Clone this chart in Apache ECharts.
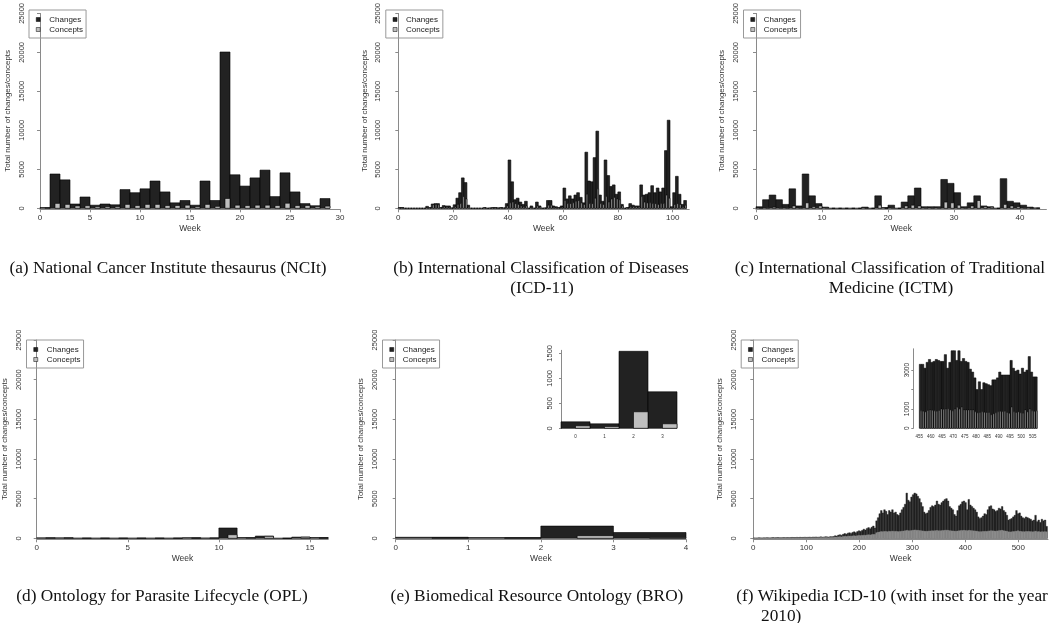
<!DOCTYPE html>
<html>
<head>
<meta charset="utf-8">
<title>Weekly changes and concepts</title>
<script src="https://cdn.jsdelivr.net/npm/echarts@6.0.0/dist/echarts.min.js"></script>
<style>
html, body { margin: 0; padding: 0; background: #fff; }
#main { width: 1050px; height: 623px; }
</style>
</head>
<body>
<div id="main"></div>
<script>
// ---- data (one value per week, week 0 first) ----
var aChanges = [100, 4400, 3650, 550, 1450, 400, 550, 450, 2400, 2000, 2500, 3500, 2100, 700, 1000,
  400, 3500, 1000, 20050, 4300, 2850, 3900, 4900, 1500, 4550, 2100, 600, 330, 1250];
var aConcepts = [60, 630, 500, 300, 330, 200, 200, 200, 500, 350, 500, 500, 350, 350, 400,
  200, 500, 250, 1260, 400, 350, 400, 400, 350, 650, 350, 350, 200, 280];

var bChanges = [100, 100, 0, 0, 0, 0, 0, 0, 0, 0,
  250, 100, 550, 600, 600, 100, 350, 300, 300, 50,
  450, 1300, 2000, 3900, 3300, 400, 0, 0, 0, 0,
  0, 100, 0, 50, 100, 100, 50, 100, 50, 600,
  6200, 3400, 1100, 1300, 800, 500, 900, 0, 300, 0,
  800, 300, 0, 50, 1000, 1000, 300, 200, 100, 300,
  2600, 1200, 1600, 1200, 1700, 2000, 1400, 700, 7200, 3500,
  3400, 6500, 9900, 1700, 900, 6200, 4200, 2800, 3000, 1800,
  2100, 500, 0, 100, 600, 400, 300, 300, 3000, 1700,
  1800, 2000, 2900, 2000, 2600, 2100, 2600, 7400, 11300, 200,
  2000, 4100, 1800, 500, 1000];
var bConcepts = [50, 50, 0, 0, 0, 0, 0, 0, 0, 0,
  100, 50, 450, 500, 450, 50, 200, 200, 150, 20,
  200, 500, 600, 1500, 1200, 200, 0, 0, 0, 0,
  0, 50, 0, 30, 50, 50, 30, 50, 30, 300,
  700, 800, 600, 500, 300, 200, 300, 0, 100, 0,
  300, 150, 0, 20, 400, 400, 150, 100, 50, 150,
  1000, 600, 600, 700, 900, 1000, 700, 500, 1800, 600,
  600, 1300, 2500, 600, 500, 1500, 800, 1200, 1400, 1200,
  1100, 300, 0, 50, 200, 200, 200, 200, 1500, 800,
  700, 700, 600, 600, 500, 600, 600, 1700, 1300, 100,
  500, 600, 500, 200, 400];

var cChanges = [200, 1100, 1700, 1100, 500, 2500, 300, 4400, 1600, 600,
  150, 0, 0, 0, 0, 0, 150, 0, 1600, 100,
  400, 0, 800, 1600, 2600, 200, 200, 200, 3700, 3200,
  2000, 200, 700, 1600, 300, 200, 0, 3800, 900, 700,
  400, 150, 50];
var cConcepts = [50, 100, 150, 100, 100, 300, 100, 700, 200, 300,
  100, 0, 0, 0, 0, 0, 50, 0, 400, 0,
  100, 0, 300, 400, 300, 100, 100, 100, 800, 700,
  400, 100, 300, 1000, 200, 150, 0, 500, 300, 200,
  100, 50, 20];

var dChanges = [60, 60, 20, 20, 20, 20, 20, 20, 80, 40, 1300, 100, 280, 0, 150, 100];
var dConcepts = [60, 60, 20, 20, 20, 20, 20, 20, 20, 40, 450, 80, 250, 0, 150, 30];

var eChanges = [130, 90, 1540, 730];
var eConcepts = [50, 35, 330, 90];

// Wikipedia ICD-10: one reading per 3 weeks (week 0, 3, 6, ...)
var F_STEP = 3;
var fChanges = [50, 30, 40, 60, 50, 40, 60, 50, 80, 60, 50, 70, 90, 60, 80, 100, 70, 60, 80, 90,
  70, 100, 80, 90, 110, 90, 100, 120, 100, 130, 110, 120, 140, 120,
  130, 150, 120, 160, 150, 170, 140, 160, 180, 150, 170, 200, 180, 160, 210, 190, 230,
  320, 280, 400, 450, 380, 500, 600, 520, 650, 700, 620, 750, 820, 700, 850, 950, 880, 1000,
  1150, 1050, 1250, 1350, 1200, 1400, 1550, 1300,
  2200, 2600, 3100, 3500, 3200, 3600, 3400, 3000, 3500, 3300, 3600, 3200,
  3300, 3000, 2900, 3200, 3600, 3900, 4300, 5700, 4800, 4600,
  5200, 5500, 5700, 5600, 5300, 5000, 4500, 4000, 3300, 3100,
  3200, 3500, 3900, 4100, 4000, 4200, 4700, 4300, 4200, 4500,
  4700, 4900, 5000, 4700, 4000, 3800, 3600, 3000, 2800, 3500,
  4100, 4300, 4600, 4700, 4500, 3600, 4900, 4200, 4000, 3800,
  3600, 3300, 2700, 2500, 2600, 2800, 3100, 3000, 3600, 4000,
  4100, 3700, 3600, 3400, 3500, 3800, 3700, 4000, 3500, 3300,
  2900, 2300, 2400, 2500, 2700, 2900, 3500, 3100, 3200, 2800,
  2600, 2500, 2700, 2600, 2500, 2400, 2200, 2300, 2900, 2100,
  2300, 2000, 2400, 2200, 2300, 1500];
var fConcepts = [20, 10, 20, 30, 20, 20, 30, 20, 40, 30, 20, 30, 40, 30, 40, 50, 30, 30, 40, 40,
  30, 50, 40, 40, 50, 40, 50, 60, 50, 60, 50, 60, 70, 60,
  60, 70, 60, 80, 70, 80, 70, 80, 90, 80, 90, 100, 90, 80, 110, 100, 120,
  150, 140, 180, 200, 170, 220, 250, 230, 270, 280, 260, 300, 320, 290, 330, 360, 340, 370,
  400, 380, 420, 450, 420, 460, 500, 470,
  700, 750, 800, 850, 820, 870, 860, 830, 880, 850, 900, 870,
  880, 850, 840, 870, 900, 920, 950, 1000, 960, 940,
  980, 1000, 1050, 1020, 1000, 980, 950, 930, 900, 880,
  890, 910, 930, 950, 940, 960, 980, 950, 940, 970,
  990, 1000, 1020, 1000, 960, 940, 930, 900, 880, 920,
  950, 970, 990, 1000, 980, 950, 1000, 980, 960, 940,
  920, 900, 850, 820, 840, 860, 880, 870, 900, 930,
  950, 940, 920, 900, 930, 960, 980, 1000, 950, 920,
  880, 820, 800, 820, 850, 870, 900, 950, 880, 860,
  840, 830, 850, 860, 850, 840, 820, 830, 900, 820,
  850, 800, 830, 820, 840, 820];

// inset of (f): weeks 455 .. 506, one value per week
var F_INSET_START = 455;
var fInsetChanges = [3300, 3300, 3100, 3400, 3550, 3400, 3450, 3550, 3500, 3450,
  3450, 3800, 3100, 3400, 4000, 4000, 3500, 4000, 3450, 3600,
  3450, 3400, 3050, 2900, 2600, 2000, 2400, 2000, 2350, 2300,
  2250, 2200, 2500, 2500, 2600, 2900, 2750, 2750, 2750, 2750,
  3500, 3100, 2950, 3000, 2800, 3100, 2900, 3000, 3700, 2900,
  2650, 2650];
var fInsetConcepts = [900, 880, 850, 920, 950, 930, 900, 880, 920, 1000,
  980, 990, 1010, 950, 900, 1000, 1080, 1000, 1100, 950,
  950, 950, 950, 950, 850, 800, 820, 850, 830, 820,
  820, 700, 750, 800, 850, 880, 860, 880, 820, 780,
  1100, 850, 820, 850, 800, 780, 950, 850, 1000, 900,
  880, 900];

var captions = [
  ['(a) National Cancer Institute thesaurus (NCIt)'],
  ['(b) International Classification of Diseases', '(ICD-11)'],
  ['(c) International Classification of Traditional', 'Medicine (ICTM)'],
  ['(d) Ontology for Parasite Lifecycle (OPL)'],
  ['(e) Biomedical Resource Ontology (BRO)'],
  ['(f) Wikipedia ICD-10 (with inset for the year', '2010)']
];

// ---- layout ----
var SANS = '"Liberation Sans", Arial, sans-serif';
var SERIF = '"Liberation Serif", "Times New Roman", serif';
var CHANGES_COLOR = '#222222';
var CONCEPTS_COLOR = '#bfbfbf';
var FLAT_CONCEPTS_COLOR = '#8c8c8c';
var AXIS_COLOR = '#8a8a8a';
var TEXT_COLOR = '#333';

function plainNumber(v) { return String(v); }

var panels = [
  {left: 40, top: 10, width: 300, max: 30, xTicks: [0, 5, 10, 15, 20, 25, 30], yOff: 10.5,
    changes: aChanges, concepts: aConcepts},
  {left: 398.3, top: 10, width: 290.9, max: 106, xTicks: [0, 20, 40, 60, 80, 100], yOff: 12,
    changes: bChanges, concepts: bConcepts},
  {left: 756, top: 10, width: 290.4, max: 44, xTicks: [0, 10, 20, 30, 40], yOff: 12,
    changes: cChanges, concepts: cConcepts},
  {left: 36.7, top: 340, width: 291.5, max: 16, xTicks: [0, 5, 10, 15], yOff: 9.7,
    changes: dChanges, concepts: dConcepts},
  {left: 395.7, top: 340, width: 290.3, max: 4, xTicks: [0, 1, 2, 3, 4], yOff: 12.7,
    changes: eChanges, concepts: eConcepts},
  {left: 753.3, top: 340, width: 294.7, max: 556, xTicks: [0, 100, 200, 300, 400, 500], yOff: 11.6,
    changes: fChanges, concepts: fConcepts, step: F_STEP, flat: true}
];

function renderBar(params, api) {
  var topLeft = api.coord([api.value(0), api.value(2)]);
  var bottomRight = api.coord([api.value(1), 0]);
  return {
    type: 'rect',
    shape: {
      x: topLeft[0],
      y: topLeft[1],
      width: bottomRight[0] - topLeft[0],
      height: bottomRight[1] - topLeft[1]
    },
    style: api.style()
  };
}

function barSeries(name, index, values, opts) {
  var step = opts.step || 1;
  var start = opts.start || 0;
  var from = opts.half ? 0.5 : 0;
  return {
    name: name,
    type: 'custom',
    xAxisIndex: index,
    yAxisIndex: index,
    renderItem: renderBar,
    encode: {x: [0, 1], y: 2},
    itemStyle: opts.itemStyle,
    silent: true,
    animation: false,
    data: values.map(function (v, i) {
      var w = start + i * step;
      return [w + from * step, w + step, v];
    })
  };
}

var grids = [], xAxes = [], yAxes = [], series = [], legends = [];

panels.forEach(function (p, i) {
  grids.push({left: p.left, top: p.top, width: p.width, height: 198.3});
  xAxes.push({
    type: 'value', gridIndex: i, min: 0, max: p.max, offset: 1,
    name: 'Week', nameLocation: 'middle', nameGap: 15,
    nameTextStyle: {fontSize: 8.5, color: TEXT_COLOR, fontFamily: SANS},
    axisLine: {show: true, onZero: false, lineStyle: {color: AXIS_COLOR, width: 1}},
    axisTick: {show: true, length: 3, customValues: p.xTicks, lineStyle: {color: AXIS_COLOR}},
    axisLabel: {customValues: p.xTicks, fontSize: 8, margin: 4, color: TEXT_COLOR, fontFamily: SANS},
    splitLine: {show: false}
  });
  yAxes.push({
    type: 'value', gridIndex: i, min: 0, max: 25000, interval: 5000, offset: p.yOff,
    name: 'Total number of changes/concepts', nameLocation: 'middle', nameGap: 18, nameRotate: 90,
    nameTextStyle: {fontSize: 8, color: TEXT_COLOR, fontFamily: SANS},
    axisLine: {show: true, lineStyle: {color: AXIS_COLOR, width: 1}},
    axisTick: {show: true, length: 3, lineStyle: {color: AXIS_COLOR}},
    axisLabel: {rotate: 90, fontSize: 7.5, margin: 4, color: TEXT_COLOR, fontFamily: SANS,
      formatter: plainNumber},
    splitLine: {show: false}
  });
  // the dense weekly panel (f) has no outlines; a thin same-colour edge closes the seams
  series.push(barSeries('Changes', i, p.changes, {
    step: p.step,
    itemStyle: p.flat
      ? {color: CHANGES_COLOR, borderColor: CHANGES_COLOR, borderWidth: 0.4}
      : {color: CHANGES_COLOR, borderColor: '#000', borderWidth: 0.6}
  }));
  series.push(barSeries('Concepts', i, p.concepts, {
    step: p.step,
    half: !p.flat,
    itemStyle: p.flat
      ? {color: FLAT_CONCEPTS_COLOR, borderColor: FLAT_CONCEPTS_COLOR, borderWidth: 0.4}
      : {color: CONCEPTS_COLOR, borderColor: '#000', borderWidth: 0.6}
  }));
  legends.push({
    data: ['Changes', 'Concepts'],
    orient: 'vertical',
    left: p.left - p.yOff - 0.5,
    top: p.top,
    padding: [5, 3, 4, 7],
    itemWidth: 4,
    itemHeight: 4,
    itemGap: 1,
    icon: 'rect',
    selectedMode: false,
    borderColor: '#999',
    borderWidth: 1,
    itemStyle: {borderColor: '#000', borderWidth: 0.5},
    textStyle: {fontSize: 8, color: '#222', fontFamily: SANS, lineHeight: 9, padding: [0, 0, 0, 4]}
  });
});

// inset of (e)
grids.push({left: 561, top: 350.3, width: 116, height: 78});
xAxes.push({
  type: 'value', gridIndex: 6, min: 0, max: 4,
  axisLine: {show: false}, axisTick: {show: false}, splitLine: {show: false},
  axisLabel: {
    customValues: [0.5, 1.5, 2.5, 3.5], fontSize: 4.5, margin: 6, color: TEXT_COLOR, fontFamily: SANS,
    formatter: function (v) { return String(Math.floor(v)); }
  }
});
yAxes.push({
  type: 'value', gridIndex: 6, min: 0, max: 1560, offset: 5,
  axisLine: {show: true, lineStyle: {color: AXIS_COLOR}},
  axisTick: {show: true, length: 2, customValues: [0, 500, 1000, 1500], lineStyle: {color: AXIS_COLOR}},
  axisLabel: {customValues: [0, 500, 1000, 1500], rotate: 90, fontSize: 7.5, margin: 2,
    color: TEXT_COLOR, fontFamily: SANS, formatter: plainNumber},
  splitLine: {show: false}
});
series.push(barSeries('Changes', 6, eChanges, {
  itemStyle: {color: CHANGES_COLOR, borderColor: '#000', borderWidth: 0.6}
}));
series.push(barSeries('Concepts', 6, eConcepts, {
  half: true, itemStyle: {color: CONCEPTS_COLOR, borderColor: '#000', borderWidth: 0.6}
}));

// inset of (f), year 2010
grids.push({left: 919.3, top: 348.8, width: 117.9, height: 79.5});
xAxes.push({
  type: 'value', gridIndex: 7, min: 455, max: 507,
  axisLine: {show: false}, axisTick: {show: false}, splitLine: {show: false},
  axisLabel: {customValues: [455, 460, 465, 470, 475, 480, 485, 490, 495, 500, 505],
    fontSize: 4.5, margin: 6, color: TEXT_COLOR, fontFamily: SANS}
});
yAxes.push({
  type: 'value', gridIndex: 7, min: 0, max: 4100, offset: 6,
  axisLine: {show: true, lineStyle: {color: AXIS_COLOR}},
  axisTick: {show: true, length: 2, customValues: [0, 1000, 2000, 3000], lineStyle: {color: AXIS_COLOR}},
  axisLabel: {customValues: [0, 1000, 3000], rotate: 90, fontSize: 6.5, margin: 3,
    color: TEXT_COLOR, fontFamily: SANS, formatter: plainNumber},
  splitLine: {show: false}
});
series.push(barSeries('Changes', 7, fInsetChanges, {
  start: F_INSET_START,
  itemStyle: {color: CHANGES_COLOR, borderColor: '#000', borderWidth: 0.5}
}));
series.push(barSeries('Concepts', 7, fInsetConcepts, {
  start: F_INSET_START, half: true,
  itemStyle: {color: CONCEPTS_COLOR, borderColor: '#000', borderWidth: 0.5}
}));

// sub-figure captions
var captionPos = [
  [{x: 168, y: 268, align: 'center'}],
  [{x: 541, y: 268, align: 'center'}, {x: 542, y: 288, align: 'center'}],
  [{x: 890, y: 268, align: 'center'}, {x: 891, y: 288, align: 'center'}],
  [{x: 162, y: 596, align: 'center'}],
  [{x: 537, y: 596, align: 'center'}],
  [{x: 892, y: 596, align: 'center'}, {x: 761, y: 616, align: 'left'}]
];
var graphics = [];
captions.forEach(function (lines, i) {
  lines.forEach(function (line, j) {
    var pos = captionPos[i][j];
    graphics.push({
      type: 'text',
      x: pos.x,
      y: pos.y,
      silent: true,
      style: {
        text: line,
        font: '17.3px ' + SERIF,
        fill: '#111',
        align: pos.align,
        verticalAlign: 'middle',
        textAlign: pos.align,
        textVerticalAlign: 'middle'
      }
    });
  });
});

var chart = echarts.init(document.getElementById('main'), null, {renderer: 'canvas'});
chart.setOption({
  animation: false,
  backgroundColor: '#fff',
  grid: grids,
  xAxis: xAxes,
  yAxis: yAxes,
  legend: legends,
  series: series,
  graphic: {elements: graphics}
});
</script>
</body>
</html>
